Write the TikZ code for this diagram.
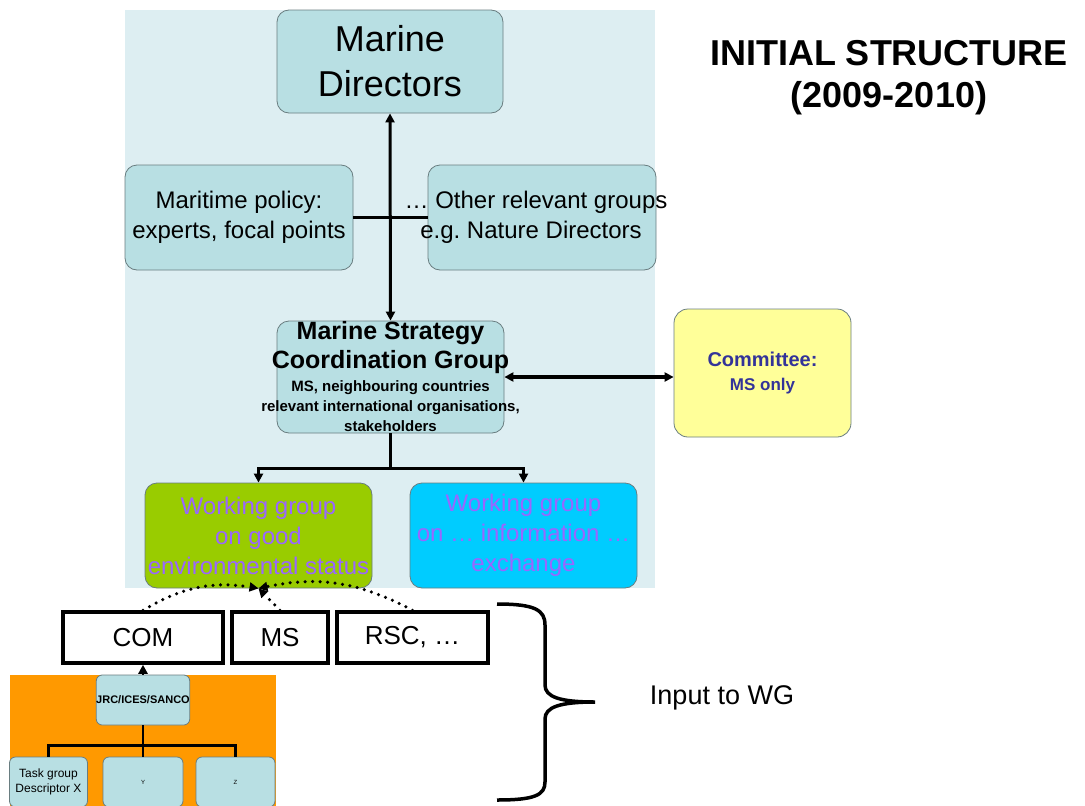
\documentclass[tikz,border=0pt]{standalone}
\usepackage{fontspec}
\setmainfont{Liberation Sans}
\usetikzlibrary{arrows.meta}
\newcommand{\fsz}[2]{\fontsize{#1}{#2}\selectfont}
\newcommand{\wide}[1]{\makebox[0pt]{\spaceskip=0pt #1}}
\definecolor{bgblue}{RGB}{221,238,242}
\definecolor{boxblue}{RGB}{184,223,227}
\definecolor{boxline}{RGB}{105,125,128}
\definecolor{comyellow}{RGB}{255,255,153}
\definecolor{wggreen}{RGB}{153,204,0}
\definecolor{wgcyan}{RGB}{0,204,255}
\definecolor{wgpurple}{RGB}{153,102,255}
\definecolor{ctnavy}{RGB}{51,51,153}
\definecolor{jrcorange}{RGB}{255,153,0}
\begin{document}
\begin{tikzpicture}[x=1pt,y=-1pt,
	bluebox/.style={draw=boxline, fill=boxblue, rounded corners=12pt, line width=0.8pt, align=center, inner sep=0pt},
	wgbox/.style={draw=boxline, rounded corners=12pt, line width=0.8pt, minimum width=227pt, minimum height=105pt, text=wgpurple, font=\fsz{24}{30}, align=center, inner sep=0pt},
	inbox/.style={draw=black, fill=white, line width=3.5pt, minimum height=51pt, inner sep=0pt, font=\fsz{26}{30}},
	link/.style={line width=3pt},
	treeline/.style={line width=2.5pt},
	dotline/.style={line width=3.5pt, dash pattern=on 0pt off 7.5pt, line cap=round},
	arr/.style={-{Triangle[length=9pt,width=9pt]}},
	twoarr/.style={{Triangle[length=9pt,width=9pt]}-{Triangle[length=9pt,width=9pt]}}]
	\useasboundingbox (0,0) rectangle (1085,806);
	
	% Backgrounds
	\fill[bgblue] (125,10) rectangle (655,588);
	\fill[jrcorange] (10,675) rectangle (276,806);
	
	% Title
	\node[font=\fsz{36}{42}\bfseries, align=center] (title) at (889,78) {INITIAL STRUCTURE\\(2009-2010)};
	
	% Top level
	\node[bluebox, minimum width=226pt, minimum height=103pt, font=\fsz{36}{45}] (md) at (390,61.5) {Marine\\Directors};
	\node[bluebox, minimum width=228pt, minimum height=105pt, font=\fsz{24}{30}] (mp) at (239,217.5) {Maritime policy:\\experts, focal points};
	\node[bluebox, minimum width=228pt, minimum height=105pt, font=\fsz{24}{30}] (other) at (542,217.5) {\wide{\hspace{-12pt}\ldots\ Other relevant groups}\\\wide{\hspace{-22pt}e.g.\ Nature Directors}};
	
	% Coordination group
	\node[bluebox, minimum width=227pt, minimum height=112pt, text width=227pt, font=\bfseries] (mscg) at (390.5,377) {\fsz{25}{29}\wide{Marine Strategy}\\\wide{Coordination Group}\par
		\fsz{15}{20}\vspace{3pt}\wide{MS, neighbouring countries}\\\wide{relevant international organisations,}\\\wide{stakeholders}\par};
	\node[draw=boxline, fill=comyellow, rounded corners=14pt, line width=0.8pt, minimum width=177pt, minimum height=128pt, text width=177pt, align=center, inner sep=0pt, text=ctnavy, font=\bfseries] (cttee) at (762.5,373) {\fsz{20}{24}\wide{Committee:}\par\fsz{17}{24}\wide{MS only}\par};
	
	% Working groups
	\node[wgbox, fill=wggreen] (wgges) at (258.5,535.5) {Working group\\on good\\\wide{environmental status}};
	\node[wgbox, fill=wgcyan] (wginfo) at (523.5,535.5) {Working group\\on \ldots\ information \ldots\\exchange};
	
	% Inputs
	\node[inbox, minimum width=160pt] (com) at (143,637.5) {COM};
	\node[inbox, minimum width=96pt] (ms) at (280,637.5) {MS};
	\node[inbox, minimum width=151pt] (rsc) at (412.5,637.5) {RSC, \ldots};
	
	% JRC tree
	\node[bluebox, rounded corners=6pt, minimum width=80pt, minimum height=50pt, font=\fsz{11}{13}\bfseries] (jrc) at (143,700) {JRC/ICES/SANCO};
	\node[bluebox, rounded corners=6pt, minimum width=78pt, minimum height=50pt, font=\fsz{12}{15}] (task) at (48.5,782) {Task group\\Descriptor X};
	\node[bluebox, rounded corners=6pt, minimum width=80pt, minimum height=50pt, font=\fsz{6}{8}] (tasky) at (143,782) {Y};
	\node[bluebox, rounded corners=6pt, minimum width=79pt, minimum height=50pt, font=\fsz{6}{8}] (taskz) at (235.5,782) {Z};
	
	% Connectors
	\draw[link, twoarr] (md.south) -- (mscg.north);
	\draw[link] (mp.east) -- (other.west);
	\draw[link, line width=3.5pt, twoarr] (mscg.east) -- (mscg.east -| cttee.west);
	\foreach \w in {wgges,wginfo}
		\draw[treeline, arr] (mscg.south) -- ++(0,35) -| (\w.north);
	\draw[dotline, arr] (com.north) to[bend left=20] (wgges.south);
	\draw[dotline, arr] (ms.north) -- (wgges.south);
	\draw[dotline, arr] (rsc.north) to[bend right=20] (wgges.south);
	\draw[treeline, arr] (jrc.north) -- (com.south);
	\foreach \t in {task,tasky,taskz}
		\draw[treeline] (jrc.south) -- ++(0,20) -| (\t.north);
	
	% Brace
	\draw[line width=3.5pt] (497,604) .. controls (535,604) and (545,610) .. (545,625) -- (545,685)
		.. controls (545,697) and (560,702) .. (595,702) .. controls (560,702) and (545,707) .. (545,719)
		-- (545,782) .. controls (545,795) and (535,800) .. (497,800);
	\node[font=\fsz{27}{30}] (input) at (722,698) {Input to WG};
\end{tikzpicture}
\end{document}
